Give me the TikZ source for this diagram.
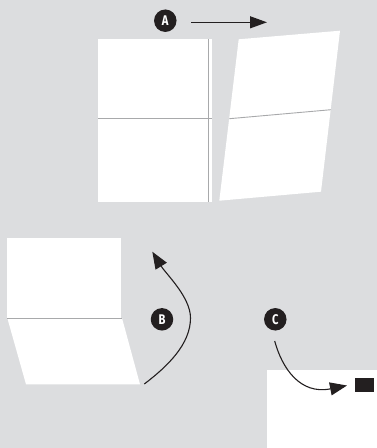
\documentclass[tikz,border=0pt]{standalone}
\usepackage{fontspec}
\setmainfont{Fira Sans}
\newfontfamily\badgefont[FakeStretch=0.8]{Fira Sans}
\usetikzlibrary{arrows.meta}
\definecolor{bg}{HTML}{DCDDDF}
\definecolor{ink}{HTML}{231F20}
\definecolor{fold}{HTML}{A8A9AB}
\tikzset{
  badge/.style={circle,fill=ink,text=white,inner sep=0pt,minimum size=22.5pt,font=\badgefont\fontsize{14}{14}\selectfont\bfseries},
  sheet/.style={fill=white,draw=none},
  foldline/.style={draw=fold,line width=0.9pt},
  arr/.style={draw=ink,line width=1.2pt,-{Triangle[length=17pt,width=12pt]}},
  carr/.style={draw=ink,line width=1.1pt,-{Triangle[length=17pt,width=13pt]}}
}
\begin{document}
\begin{tikzpicture}[x=1pt,y=-1pt]
\fill[bg] (0,0) rectangle (377,448);
\useasboundingbox (0,0) rectangle (377,448);
% left flat sheet (A)
\fill[sheet] (98,39) rectangle (212,201.7);
\draw[foldline] (98,118.5) -- (212,118.5);
\draw[foldline] (208.8,39) -- (208.8,201.7);
% skewed sheet (A)
\fill[sheet] (238.7,39.3) -- (340,30.7) -- (321,191.7) -- (219.3,200.7) -- cycle;
\draw[foldline] (229.3,118.7) -- (331,109.7);
% badge A and arrow
\node[badge] (A) at (165.3,20.7) {A};
\coordinate (a1) at (191,22.3);
\coordinate (a2) at (267,22.3);
\draw[arr] (a1) -- (a2);
% bottom left folded sheet (B)
\fill[sheet] (7.3,238) rectangle (120.7,318);
\fill[sheet] (7.3,318) -- (122,318) -- (140,384.3) -- (26,384.3) -- cycle;
\draw[foldline] (7.3,318) -- (122,318);
% badge B and curved arrow
\node[badge] (B) at (162,319.3) {B};
\coordinate (b1) at (144.3,384);
\coordinate (bm) at (190.5,318);
\coordinate (b2) at (152.3,251.7);
\draw[carr] (b1) .. controls (168,366) and (190.5,344) .. (bm)
               .. controls (190.5,297) and (166,274) .. (b2);
% bottom right sheet (C)
\fill[sheet] (267,370) rectangle (377,448);
\fill[ink] (355,377.7) rectangle (374,392);
\node[badge] (C) at (275.3,319.3) {C};
\coordinate (c1) at (274.7,341);
\coordinate (c2) at (347,385.5);
\draw[carr] (c1) .. controls (282,368) and (300,395) .. (c2);
\end{tikzpicture}
\end{document}
